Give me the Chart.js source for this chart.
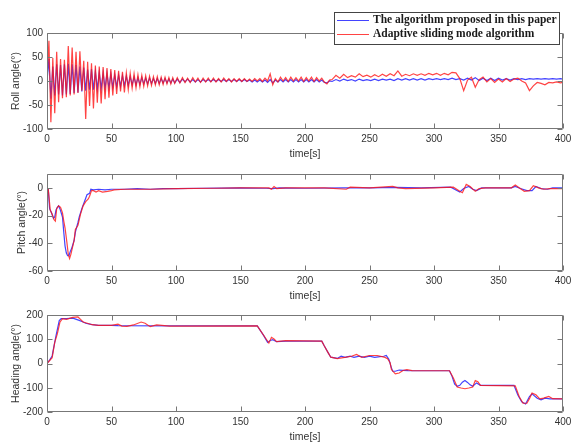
<!DOCTYPE html>
<html>
<head>
<meta charset="utf-8">
<script src="https://cdn.jsdelivr.net/npm/chart.js@4.4.1/dist/chart.umd.min.js"></script>
<style>
  html, body { margin: 0; padding: 0; background: #fff; }
  #wrap { position: relative; width: 571px; height: 444px; overflow: hidden; }
  #wrap canvas { position: absolute; left: 0; }
</style>
</head>
<body>
<div id="wrap">
  <canvas id="rollChart" width="571" height="165" style="top:0px"></canvas>
  <canvas id="pitchChart" width="571" height="145" style="top:160px"></canvas>
  <canvas id="headingChart" width="571" height="144" style="top:300px"></canvas>
</div>
<script>
// labels
var proposedLabel = 'The algorithm proposed in this paper';
var adaptiveLabel = 'Adaptive sliding mode algorithm';
var xTicks = [0, 50, 100, 150, 200, 250, 300, 350, 400];

// roll angle
var rollTime = [
  0,1.5,3,4.5,6,7.5,9,10.5,12,13.5,15,16.5,18,19.5,21,22.5,24,25.5,27,28.5,
  30,31.5,33,34.5,36,37.5,39,40.5,42,43.5,45,46.5,48,49.5,51,52.5,54,55.5,57,58.5,
  60,61.5,63,64.5,66,67.5,69,70.5,72,73.5,75,76.5,78,79.5,81,82.5,84,85.5,87,88.5,
  90,91.5,93,94.5,96,97.5,99,
  101,103,105,107,109,111,113,115,117,119,121,123,125,127,129,131,133,135,137,139,
  141,143,145,147,149,151,153,155,157,159,161,163,165,167,169,171,173,175,177,179,
  181,183,185,187,189,191,193,195,197,199,201,203,205,207,209,211,213,215,217,219,
  221,224,227,230,233,236,239,242,245,248,251,254,257,260,263,266,269,272,275,278,
  281,284,287,290,293,296,299,302,305,308,311,314,317,320,323,326,329,332,335,338,
  341,344,347,350,353,356,359,362,365,368,371,374,377,380,383,386,389,392,395,398,
  400
];
var rollProposed = [
  0,46,-37,30,-30,35,-28,33,-30,35,-28,36,-27,35,-25,33,-24,30,-22,28,
  -20,24,-18,25,-18,20,-17,18,-16,17,-15,16,-14,15,-13,13,-12,12,-11,11,
  -10,10,-9,9,-8,8,-8,7,-7,7,-6,6,-6,6,-5,5,-5,5,-5,5,
  -4,5,-4,4,-4,4,-4,
  4,-3,4,-2,4,-2,3,-2,3,-2,3,-1,3,-1,3,-1,3,-1,3,-1,
  3,-1,3,-1,3,-1,3,-1,2,-2,2,-2,2,-2,2,-3,3,-4,2,-2,
  3,-2,3,-2,3,-2,3,-2,3,-2,3,-2,3,-2,3,-2,2,-3,-4,0,
  -1,3,0,4,1,3,0,4,1,3,1,4,1,4,2,4,1,5,2,5,
  2,5,2,5,2,5,3,5,3,5,3,6,3,5,2,6,2,7,1,6,
  1,6,1,6,2,5,2,5,3,5,3,5,4,5,4,5,4,5,4,5,
  4
];
var rollAdaptive = [
  0,84,-86,48,-67,61,-44,46,-36,44,-34,73,-30,70,-28,61,-25,62,-20,42,
  -79,40,-52,37,-57,32,-45,30,-47,29,-38,27,-35,25,-30,23,-27,21,-22,19,
  -24,17,-18,16,-15,15,-14,13,-12,12,-11,11,-10,10,-9,9,-8,9,-8,8,
  -7,8,-6,7,-6,7,-5,
  7,-4,7,-3,6,-3,7,-2,6,-3,6,-2,6,-2,6,-2,5,-2,6,-1,
  5,-2,5,-1,5,-1,5,-1,4,-1,5,0,5,-1,6,0,15,-8,5,-2,
  8,0,7,-1,8,0,7,0,8,-1,7,0,8,-1,7,0,6,-2,-6,2,
  3,12,6,14,7,11,8,15,9,12,8,13,9,14,10,15,11,21,10,14,
  11,15,12,15,12,16,13,16,12,16,13,18,17,5,-20,2,8,-13,3,8,
  -2,5,-3,4,-2,5,-1,4,6,0,-4,-20,-10,-3,-5,-8,-3,-4,-2,-4,
  -3
];

// pitch angle
var pitchTimeProposed = [0,1,2,3.5,5,6,7,8,9,10,12,13,14,15,16,17,18,19,21,22,24,25,27,29,31,33,34,36,40,45,50,60,70,80,90,100,120,150,170,175,180,200,230,250,270,290,313,317,320,323,327,330,333,337,345,360,363,367,372,376,379,383,388,392,400];
var pitchProposed = [0,-1,-15,-18,-22,-21,-16,-14,-13,-15,-21,-32,-42,-47,-49,-49,-46,-44,-38,-32,-25,-21,-15,-10,-5,-4,-1,-1.5,-1,-1.5,-1,-1,-0.5,-1,-0.5,-0.5,-0.3,0,-0.3,-0.5,0,-0.3,0,0,0.3,0,0.5,-1.5,-3,-0.5,1,-1,-2,0,0,0,1,-0.5,-2,-2,1,-0.5,-1,0,0];
var pitchTimeAdaptive = [0,1,2.5,4,5.5,6.5,7.5,9,10.5,12,13,14,15.5,16.5,17.5,18.5,20,21,22,24,26,28,30,32,33,34.5,36,38,40,43,47,50,52,60,70,80,100,130,150,172,174,176,178,185,200,215,232,235,250,268,272,278,300,315,320,322,325,328,332,335,340,360,363,366,370,374,377,381,385,390,400];
var pitchAdaptive = [0,-1,-16,-19,-23,-24,-15,-13,-14,-18,-24,-29,-40,-48,-51,-48,-42,-38,-30,-27,-19,-13,-10,-8,-6,-2,-2,-3,-2,-3,-2.5,-2,-1.5,-1,-1,-1,-0.5,-0.3,0,0,-1,1,-0.5,0,0,0,-1,0.5,0,1,0,-0.5,0,0.5,-2.5,-3.5,2.5,1,-2.5,-0.5,0,0,2,0,-2.5,-2,1.5,0,-1,-0.5,-0.5];

// heading angle
var headingTimeProposed = [0,2,4,5,7,9.5,11,15,20,25,28,30,35,40,50,55,100,163,168,171,173,175,178,185,213,215,218,220,225,228,231,235,238,242,246,250,254,258,261,263,265,267,268,270,273,276,280,312,314,316,318,320,322,324,326,328,330,333,336,362,365,368,371,374,376,380,383,386,390,400];
var headingProposed = [0,14,31,60,115,177,185,185,187,178,171,166,160,157,157,156,155,155,115,87,95,98,90,92,92,72,44,26,21,30,25,30,25,30,25,30,25,28,30,33,17,-18,-32,-32,-27,-28,-29,-30,-53,-85,-94,-90,-77,-70,-78,-88,-94,-80,-90,-90,-130,-158,-167,-136,-125,-143,-150,-143,-146,-146];
var headingTimeAdaptive = [0,4,6,8,10,12,15,20,24,26,28,30,35,40,50,55,58,62,67,73,76,80,85,89,95,163,170,172,174,176,178,185,213,215,218,220,225,232,236,240,244,250,256,262,264,266,267,270,273,276,279,283,312,315,318,321,324,327,330,332,334,336,363,366,369,372,374,376,379,382,385,389,392,400];
var headingAdaptive = [0,24,87,122,170,185,182,190,192,182,171,168,160,157,157,162,154,153,159,171,166,152,159,157,154,155,100,84,108,101,90,94,92,72,44,26,20,26,30,37,25,33,33,25,20,3,-25,-43,-39,-29,-25,-29,-30,-60,-97,-101,-104,-101,-97,-70,-75,-90,-92,-136,-164,-164,-145,-122,-129,-146,-143,-136,-145,-146];

function toPoints(times, values) {
  return times.map(function (t, i) { return { x: t, y: values[i] }; });
}

var tickFont = { family: "'Liberation Sans', Arial, sans-serif", size: 10 };
var titleFont = { family: "'Liberation Sans', Arial, sans-serif", size: 10.5 };
var textGrey = '#333';

// MATLAB style box with inward ticks on all four sides
var axesFrame = {
  id: 'axesFrame',
  afterDraw(chart) {
    const { ctx, chartArea: { left, top, right, bottom }, scales: { x, y } } = chart;
    const l = Math.round(left) + 0.5, r = Math.round(right) - 0.5;
    const t = Math.round(top) + 0.5, b = Math.round(bottom) - 0.5;
    const len = 5;
    ctx.save();
    ctx.strokeStyle = '#777';
    ctx.lineWidth = 1;
    ctx.beginPath();
    ctx.rect(l, t, r - l, b - t);
    x.ticks.forEach(tk => {
      const px = Math.round(x.getPixelForValue(tk.value)) + 0.5;
      ctx.moveTo(px, b); ctx.lineTo(px, b - len);
      ctx.moveTo(px, t); ctx.lineTo(px, t + len);
    });
    y.ticks.forEach(tk => {
      const py = Math.round(y.getPixelForValue(tk.value)) + 0.5;
      ctx.moveTo(l, py); ctx.lineTo(l + len, py);
      ctx.moveTo(r, py); ctx.lineTo(r - len, py);
    });
    ctx.stroke();
    ctx.restore();
  }
};

// boxed legend in the top right corner of the first plot
var paperLegend = {
  id: 'paperLegend',
  afterDraw(chart) {
    const { ctx } = chart;
    const bx = 334.5, by = 12.5, bw = 225, bh = 32;
    ctx.save();
    ctx.fillStyle = '#fff';
    ctx.fillRect(bx, by, bw, bh);
    ctx.strokeStyle = '#444';
    ctx.lineWidth = 1;
    ctx.strokeRect(bx, by, bw, bh);
    ctx.font = "bold 11.5px 'Liberation Serif', 'Times New Roman', serif";
    ctx.textBaseline = 'middle';
    ctx.textAlign = 'left';
    chart.data.datasets.forEach((ds, i) => {
      const yy = 20.5 + i * 14;
      ctx.strokeStyle = ds.borderColor;
      ctx.beginPath();
      ctx.moveTo(337, yy);
      ctx.lineTo(369, yy);
      ctx.stroke();
      ctx.fillStyle = '#1a1a1a';
      ctx.fillText(ds.label, 373, yy);
    });
    ctx.restore();
  }
};

function makeChart(id, cfg) {
  return new Chart(document.getElementById(id), {
    type: 'line',
    data: {
      datasets: [{
        label: proposedLabel,
        data: toPoints(cfg.tBlue, cfg.blue),
        borderColor: 'rgba(20,20,255,0.8)',
        borderWidth: 1.2,
        pointRadius: 0,
        order: 1
      }, {
        label: adaptiveLabel,
        data: toPoints(cfg.tRed, cfg.red),
        borderColor: 'rgba(255,20,20,0.8)',
        borderWidth: 1.2,
        pointRadius: 0,
        order: 0
      }]
    },
    options: {
      responsive: false,
      animation: false,
      layout: { padding: cfg.padding },
      plugins: { legend: { display: false }, tooltip: { enabled: false } },
      scales: {
        x: {
          type: 'linear', min: 0, max: 400,
          afterBuildTicks: s => { s.ticks = xTicks.map(v => ({ value: v })); },
          ticks: { font: tickFont, color: textGrey, padding: 4, maxRotation: 0 },
          grid: { display: false, drawTicks: false },
          border: { display: false },
          title: { display: true, text: 'time[s]', font: titleFont, color: textGrey, padding: { top: 0, bottom: 1 } },
          afterFit: s => { s.height = 32; s.paddingLeft = 0; s.paddingRight = 0; }
        },
        y: {
          min: cfg.yMin, max: cfg.yMax,
          afterBuildTicks: s => { s.ticks = cfg.yTicks.map(v => ({ value: v })); },
          ticks: { font: tickFont, color: textGrey, padding: 4 },
          grid: { display: false, drawTicks: false },
          border: { display: false },
          title: { display: true, text: cfg.title, font: titleFont, color: textGrey, padding: { top: cfg.titlePad, bottom: 0 } },
          afterFit: s => { s.width = 47; s.paddingTop = 0; s.paddingBottom = 0; }
        }
      }
    },
    plugins: cfg.legend ? [axesFrame, paperLegend] : [axesFrame]
  });
}

makeChart('rollChart', {
  tBlue: rollTime, blue: rollProposed, tRed: rollTime, red: rollAdaptive,
  yMin: -100, yMax: 100, yTicks: [-100, -50, 0, 50, 100],
  title: 'Roll angle(°)', titlePad: 10,
  padding: { top: 33, bottom: 4, left: 0, right: 8 },
  legend: true
});

makeChart('pitchChart', {
  tBlue: pitchTimeProposed, blue: pitchProposed, tRed: pitchTimeAdaptive, red: pitchAdaptive,
  yMin: -60, yMax: 10, yTicks: [-60, -40, -20, 0],
  title: 'Pitch angle(°)', titlePad: 16,
  padding: { top: 14, bottom: 2, left: 0, right: 8 }
});

makeChart('headingChart', {
  tBlue: headingTimeProposed, blue: headingProposed, tRed: headingTimeAdaptive, red: headingAdaptive,
  yMin: -200, yMax: 200, yTicks: [-200, -100, 0, 100, 200],
  title: 'Heading angle(°)', titlePad: 10,
  padding: { top: 15, bottom: 0, left: 0, right: 8 }
});
</script>
</body>
</html>
